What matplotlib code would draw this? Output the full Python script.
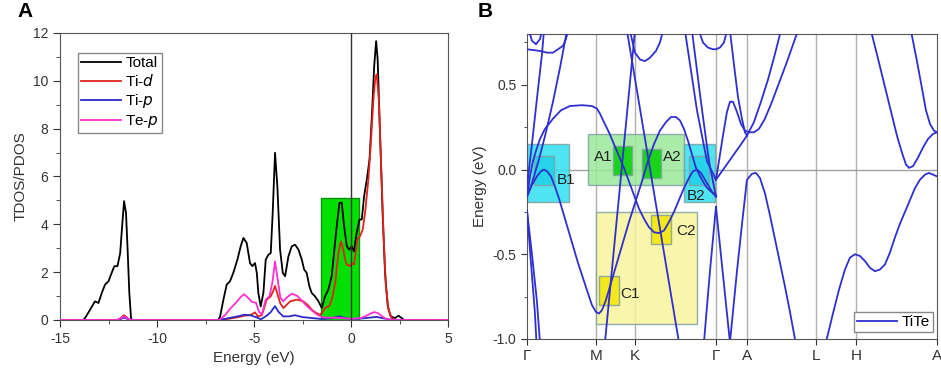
import matplotlib
matplotlib.use("Agg")
import matplotlib.pyplot as plt
from matplotlib.patches import Rectangle
from matplotlib.ticker import MultipleLocator
import numpy as np

plt.rcParams['font.family'] = ['Liberation Sans', 'DejaVu Sans']
plt.rcParams['axes.unicode_minus'] = False

# ---------------- panel A : DOS (energy eV, states) ----------------
dos_total = [(-15, 0), (-13.8, 0), (-13.71, 0.08), (-13.45, 0.43), (-13.2, 0.78), (-13.02, 0.71),
             (-12.85, 1.13), (-12.68, 1.48), (-12.5, 1.62), (-12.34, 1.97), (-12.2, 2.25), (-12.04, 2.25),
             (-11.9, 2.8), (-11.8, 3.92), (-11.7, 4.97), (-11.6, 4.48), (-11.51, 2.8), (-11.43, 1.13),
             (-11.34, 0.08), (-11.29, 0), (-6.84, 0), (-6.75, 0.15), (-6.58, 0.85), (-6.41, 1.48),
             (-6.24, 1.62), (-6.07, 1.97), (-5.86, 2.52), (-5.69, 3.08), (-5.55, 3.43), (-5.38, 3.22),
             (-5.21, 2.38), (-5.09, 2.25), (-4.95, 2.38), (-4.86, 1.97), (-4.78, 1.13), (-4.66, 0.57),
             (-4.52, 1.13), (-4.4, 2.52), (-4.26, 2.73), (-4.14, 2.8), (-4.04, 4.48), (-3.92, 6.99),
             (-3.8, 5.59), (-3.66, 2.94), (-3.52, 1.97), (-3.4, 1.83), (-3.23, 2.66), (-3.06, 3.08),
             (-2.89, 3.15), (-2.71, 2.94), (-2.54, 2.52), (-2.42, 2.11), (-2.29, 1.97), (-2.15, 1.41),
             (-2.03, 1.13), (-1.86, 0.99), (-1.68, 0.78), (-1.51, 0.5), (-1.34, 0.99), (-1.17, 1.27),
             (-1.0, 1.83), (-0.88, 2.8), (-0.74, 3.92), (-0.6, 4.9), (-0.48, 4.9), (-0.36, 3.92),
             (-0.22, 3.08), (-0.09, 2.94), (0.03, 3.08), (0.15, 2.87), (0.29, 3.64), (0.43, 4.2),
             (0.55, 4.2), (0.67, 5.17), (0.81, 5.87), (0.95, 6.71), (1.07, 8.52), (1.19, 10.61),
             (1.29, 11.66), (1.37, 10.89), (1.49, 7.82), (1.63, 4.34), (1.75, 1.97), (1.89, 0.57),
             (2.04, 0.15), (2.27, 0.08), (2.44, 0.18), (2.61, 0.08), (2.73, 0), (5, 0)]

dos_ti_d = [(-15, 0), (-12.0, 0), (-11.85, 0.1), (-11.7, 0.2), (-11.55, 0.1), (-11.4, 0), (-6.8, 0),
            (-6.3, 0.05), (-5.8, 0.12), (-5.5, 0.18), (-5.2, 0.2), (-4.95, 0.32), (-4.8, 0.15),
            (-4.6, 0.2), (-4.35, 0.85), (-4.14, 0.99), (-4.02, 1.2), (-3.92, 1.42), (-3.8, 1.1),
            (-3.65, 0.7), (-3.49, 0.5), (-3.3, 0.65), (-3.14, 0.78), (-2.8, 0.85), (-2.46, 0.78),
            (-2.2, 0.6), (-2.03, 0.43), (-1.8, 0.3), (-1.6, 0.22), (-1.45, 0.35), (-1.34, 0.5),
            (-1.2, 0.55), (-1.08, 0.64), (-0.95, 1.0), (-0.82, 1.55), (-0.72, 2.3), (-0.65, 2.8),
            (-0.52, 3.29), (-0.4, 2.94), (-0.3, 2.5), (-0.22, 2.32), (-0.09, 2.25), (0.03, 2.38),
            (0.15, 2.32), (0.25, 2.9), (0.32, 3.36), (0.46, 3.5), (0.6, 3.78), (0.72, 4.48),
            (0.89, 5.87), (1.03, 7.55), (1.15, 9.22), (1.25, 10.13), (1.32, 10.27), (1.43, 9.22),
            (1.55, 6.43), (1.67, 3.64), (1.79, 1.41), (1.93, 0.43), (2.1, 0.08), (2.27, 0), (5, 0)]

dos_ti_p = [(-15, 0), (-12.0, 0), (-11.7, 0.1), (-11.4, 0), (-6.8, 0), (-6.3, 0.08), (-5.8, 0.16),
            (-5.5, 0.22), (-5.2, 0.2), (-4.9, 0.12), (-4.65, 0.03), (-4.4, 0.15), (-4.15, 0.32),
            (-3.92, 0.58), (-3.75, 0.35), (-3.5, 0.15), (-3.2, 0.15), (-2.9, 0.2), (-2.5, 0.12),
            (-2.0, 0.08), (-1.5, 0.04), (-1.0, 0.08), (-0.6, 0.15), (-0.3, 0.08), (0.0, 0.04),
            (0.5, 0.06), (1.0, 0.1), (1.3, 0.13), (1.6, 0.08), (2.0, 0.02), (2.4, 0), (5, 0)]

dos_te_p = [(-15, 0), (-12.1, 0), (-11.85, 0.08), (-11.7, 0.15), (-11.5, 0.05), (-11.3, 0), (-6.8, 0),
            (-6.5, 0.2), (-6.2, 0.5), (-5.9, 0.75), (-5.7, 0.95), (-5.52, 1.08), (-5.3, 0.92),
            (-5.1, 0.75), (-4.9, 0.72), (-4.75, 0.35), (-4.6, 0.22), (-4.4, 0.85), (-4.2, 1.0),
            (-4.05, 1.6), (-3.92, 2.45), (-3.8, 1.8), (-3.65, 0.95), (-3.5, 0.78), (-3.3, 0.95),
            (-3.05, 1.1), (-2.8, 1.02), (-2.55, 0.82), (-2.3, 0.6), (-2.0, 0.38), (-1.7, 0.2),
            (-1.4, 0.1), (-1.0, 0.1), (-0.5, 0.08), (0.0, 0.05), (0.5, 0.08), (0.8, 0.18),
            (1.0, 0.27), (1.2, 0.33), (1.4, 0.28), (1.6, 0.15), (1.8, 0.05), (2.1, 0.0), (5, 0)]

dos_labels = ["Total", "Ti-$d$", "Ti-$p$", "Te-$p$"]
dos_colors = ["black", "#e3231b", "#2b2bc8", "#ff30d0"]
green_window = (-1.56, 0.43, 5.1)   # E from, E to, height

# ---------------- panel B : bands (k path units, eV) ----------------
kpoints = [0, 69, 108, 189, 220, 289, 329, 410]
klabels = ["\u0393", "M", "K", "\u0393", "A", "L", "H", "A"]

band_a = [(0, -0.16), (5, -0.09), (10, -0.04), (14, -0.01), (17, 0.0), (20, -0.01), (24, -0.04),
          (28, -0.1), (32, -0.17), (36, -0.25), (41, -0.35), (46, -0.45), (51, -0.55), (56, -0.64),
          (61, -0.73), (65, -0.8), (69, -0.84), (72, -0.85), (75, -0.83), (79, -0.77), (84, -0.67),
          (90, -0.55), (96, -0.43), (102, -0.31), (109, -0.18), (115, -0.07), (121, 0.05),
          (127, 0.15), (133, 0.23), (139, 0.28), (144, 0.31), (149, 0.31), (153, 0.29), (157, 0.24),
          (161, 0.17), (165, 0.09), (169, 0.01), (174, -0.05), (179, -0.1), (184, -0.13), (189, -0.15)]
band_b = [(0, -0.16), (3, -0.04), (6, 0.05), (9, 0.11), (13, 0.18), (18, 0.24), (26, 0.3), (34, 0.35),
          (43, 0.375), (55, 0.38), (65, 0.375), (70, 0.36), (73, 0.33), (77, 0.28), (82, 0.22),
          (87, 0.15), (92, 0.08), (97, 0.01), (102, -0.07), (107, -0.15), (112, -0.23), (117, -0.29),
          (122, -0.34), (127, -0.37), (132, -0.375), (137, -0.36), (142, -0.31), (147, -0.25),
          (152, -0.18), (157, -0.11), (162, -0.05), (166, -0.01), (170, 0.0), (174, -0.02),
          (178, -0.06), (182, -0.1), (186, -0.14), (189, -0.16)]
band_l1 = [(78, -1.02), (108, 0.82)]
band_l2 = [(100, 0.82), (152, -1.02)]
band_u1 = [(0, -0.1), (5, 0.15), (10, 0.42), (15, 0.68), (17, 0.82)]
band_u2 = [(0, -0.24), (4, -0.55), (8, -0.85), (9.5, -1.02)]
band_u3 = [(0, -0.24), (5, -0.5), (10, -0.78), (13, -1.02)]
band_u4 = [(40, 0.82), (33, 0.6), (26, 0.4), (19, 0.22), (12, 0.06), (5, -0.08), (0, -0.16)]
band_top1 = [(0, 0.71), (7, 0.705), (13, 0.7), (20, 0.69), (26, 0.69), (31, 0.71), (36, 0.73),
             (39, 0.77), (41, 0.82)]
band_top2 = [(2, 0.82), (5, 0.76), (9, 0.74), (13, 0.77), (15, 0.82)]
band_k_arc = [(103, 0.82), (108, 0.69), (113, 0.65), (118, 0.64), (123, 0.66), (129, 0.7), (133, 0.75),
              (136, 0.82)]
band_t1 = [(158, 0.82), (170, 0.35), (180, 0.05), (189, -0.06)]
band_t2 = [(165, 0.82), (174, 0.4), (182, 0.05), (189, -0.16)]
band_top3 = [(172, 0.82), (176, 0.75), (181, 0.72), (186, 0.71), (189, 0.71), (193, 0.72),
             (197, 0.75), (200, 0.82)]
band_v1 = [(177, -1.02), (183, -0.6), (189, -0.22)]
band_v2 = [(189, -0.22), (196, -0.62), (203, -1.02)]
band_r = [(203, -1.02), (210, -0.6), (216, -0.27), (220, -0.06), (225, -0.025), (229, -0.02),
          (233, -0.05), (238, -0.14), (243, -0.27), (248, -0.41), (253, -0.55), (258, -0.69),
          (263, -0.84), (268, -1.0), (269, -1.02)]
band_r2 = [(203, 0.82), (207, 0.62), (211, 0.43), (215, 0.3), (218, 0.22), (220, 0.2)]
band_p = [(189, -0.06), (192, 0.05), (196, 0.2), (200, 0.34), (203, 0.4), (206, 0.4), (210, 0.34),
          (214, 0.27), (218, 0.23), (222, 0.22), (227, 0.22), (232, 0.24), (238, 0.3), (245, 0.4),
          (252, 0.51), (259, 0.62), (265, 0.72), (271, 0.82)]
band_q = [(189, -0.06), (195, -0.01), (201, 0.04), (207, 0.09), (213, 0.14), (220, 0.2), (227, 0.28),
          (234, 0.4), (241, 0.53), (247, 0.66), (254, 0.82)]
band_h1 = [(299, -1.02), (306, -0.85), (312, -0.71), (318, -0.59), (323, -0.52), (328, -0.5),
           (333, -0.51), (338, -0.54), (343, -0.58), (348, -0.6), (353, -0.59), (358, -0.56),
           (363, -0.49), (368, -0.4), (373, -0.32), (378, -0.25), (383, -0.18), (388, -0.11),
           (393, -0.06), (398, -0.03), (402, -0.02), (406, -0.03), (410, -0.04)]
band_h2 = [(344, 0.82), (350, 0.68), (355, 0.56), (360, 0.44), (365, 0.32), (370, 0.2), (375, 0.1),
           (379, 0.03), (382, 0.01), (386, 0.02), (391, 0.07), (396, 0.13), (401, 0.18),
           (406, 0.21), (410, 0.22)]
band_h3 = [(384, 0.82), (390, 0.64), (395, 0.48), (399, 0.35), (403, 0.27), (407, 0.23), (410, 0.22)]

bands = [band_a, band_b, band_l1, band_l2, band_u1, band_u2, band_u3, band_u4, band_top1,
         band_top2, band_k_arc, band_t1, band_t2, band_top3, band_v1, band_v2, band_r, band_r2,
         band_p, band_q, band_h1, band_h2, band_h3]

# highlight boxes: (k0, k1, E0, E1, face, label, label k, label E)
boxes = [(0, 42, -0.19, 0.15, "#2fe0f0", None, 0, 0),
         (7, 27, -0.09, 0.08, "#20d0e8", "B1", 30, -0.06),
         (61, 157, -0.09, 0.21, "#9be89b", None, 0, 0),
         (86, 105, -0.03, 0.14, "#00d000", "A1", 67, 0.075),
         (115, 134, -0.05, 0.12, "#00d000", "A2", 136, 0.075),
         (157, 188, -0.19, 0.15, "#2fe0f0", None, 0, 0),
         (162, 182, -0.09, 0.08, "#20d0e8", "B2", 160, -0.155),
         (69, 170, -0.91, -0.25, "#f8f49c", None, 0, 0),
         (72, 92, -0.80, -0.63, "#f2e600", "C1", 93, -0.735),
         (124, 144, -0.44, -0.27, "#f2e600", "C2", 149, -0.365)]

fig = plt.figure(figsize=(9.41, 3.71), dpi=100)

# ===== panel A =====
ax1 = fig.add_axes([0.0638, 0.1375, 0.4124, 0.7736])
ax1.add_patch(Rectangle((green_window[0], 0), green_window[1] - green_window[0], green_window[2],
                        facecolor="#00e000", edgecolor="#109010", lw=1, zorder=1))
for data, lab, col in zip([dos_total, dos_ti_d, dos_ti_p, dos_te_p], dos_labels, dos_colors):
    arr = np.array(data)
    ax1.plot(arr[:, 0], arr[:, 1], color=col, lw=1.3, label=lab, zorder=3)
ax1.axvline(0, color="#333333", lw=1, zorder=4)
ax1.set_xlim(-15, 5)
ax1.set_ylim(0, 12)
ax1.xaxis.set_major_locator(MultipleLocator(5))
ax1.xaxis.set_minor_locator(MultipleLocator(2.5))
ax1.yaxis.set_major_locator(MultipleLocator(2))
ax1.yaxis.set_minor_locator(MultipleLocator(1))
ax1.tick_params(which="major", length=5, labelsize=10, colors="#333333")
ax1.tick_params(which="minor", length=3, colors="#333333")
for s in ax1.spines.values():
    s.set_color("#555555")
ax1.set_xlabel("Energy (eV)", fontsize=11, color="#333333")
ax1.set_ylabel("TDOS/PDOS", fontsize=11, color="#333333")
leg1 = ax1.legend(loc="upper left", bbox_to_anchor=(0.046, 0.93), borderaxespad=0, fontsize=11,
                  fancybox=False, edgecolor="#888888", framealpha=1, handlelength=2.6,
                  handletextpad=0.3, labelspacing=0.2, borderpad=0.2)
leg1.get_frame().set_linewidth(1)
fig.text(0.019, 0.955, "A", fontsize=15, fontweight="bold")

# ===== panel B =====
ax2 = fig.add_axes([0.560, 0.0863, 0.4357, 0.822])
for k in kpoints[1:-1]:
    ax2.axvline(k, color="#b0b0b0", lw=1, zorder=0)
ax2.axhline(0, color="#a0a0a0", lw=1, zorder=0)
for k0, k1, e0, e1, face, lab, lk, le in boxes:
    ax2.add_patch(Rectangle((k0, e0), k1 - k0, e1 - e0, facecolor=face, edgecolor="#80a0a0",
                            lw=1, alpha=0.85, zorder=1))
    if lab:
        ax2.text(lk, le, lab, fontsize=11, color="#222222", va="center", ha="left", zorder=4)
for i, b in enumerate(bands):
    arr = np.array(b)
    ax2.plot(arr[:, 0], arr[:, 1], color="#2f2fd0", lw=1.3, zorder=3,
             label="TiTe" if i == 0 else None)
ax2.set_xlim(kpoints[0], kpoints[-1])
ax2.set_ylim(-1.0, 0.8)
ax2.set_xticks(kpoints)
ax2.set_xticklabels(klabels)
ax2.yaxis.set_major_locator(MultipleLocator(0.5))
ax2.yaxis.set_minor_locator(MultipleLocator(0.25))
ax2.yaxis.set_major_formatter(matplotlib.ticker.FormatStrFormatter("%.1f"))
ax2.tick_params(which="major", length=4, labelsize=10, colors="#333333")
ax2.tick_params(axis="x", labelsize=11)
ax2.tick_params(which="minor", length=2.5, colors="#333333")
for s in ax2.spines.values():
    s.set_color("#555555")
ax2.set_ylabel("Energy (eV)", fontsize=11, color="#333333")
leg2 = ax2.legend(loc="lower right", bbox_to_anchor=(0.99, 0.023), borderaxespad=0, fontsize=11,
                  fancybox=False, edgecolor="#888888", framealpha=1, handlelength=2.6,
                  handletextpad=0.3, borderpad=0.2)
leg2.get_frame().set_linewidth(1)
fig.text(0.508, 0.955, "B", fontsize=15, fontweight="bold")

fig.savefig("out.png", dpi=100)
